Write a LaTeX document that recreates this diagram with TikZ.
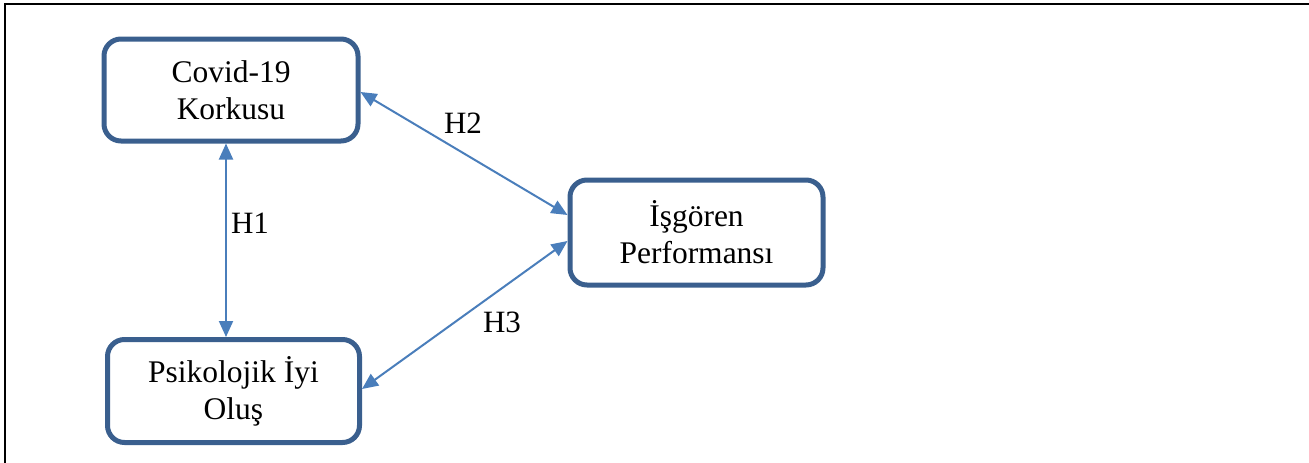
\documentclass[tikz,border=0pt]{standalone}
\usepackage{fontspec}
\setmainfont{Liberation Serif}
\usetikzlibrary{arrows.meta}
\definecolor{boxblue}{HTML}{3A5F8E}
\definecolor{arrblue}{HTML}{4A7EBB}
\begin{document}
\begin{tikzpicture}[x=1pt,y=-1pt,
  vbox/.style={draw=boxblue, line width=5pt, rounded corners=17pt, fill=white,
    align=center, inner sep=0pt, font=\fontsize{31.5}{37}\selectfont},
  link/.style={draw=arrblue, line width=2pt,
    {Triangle[length=16pt,width=14pt]}-{Triangle[length=16pt,width=14pt]}},
  hlab/.style={font=\fontsize{31}{36}\selectfont, inner sep=0pt}]
\useasboundingbox (0,0) rectangle (1309,463);
\draw[line width=2.6pt] (4.8,463) -- (4.8,3.8) -- (1309,3.8);
\node[vbox, minimum width=254pt, minimum height=102pt] (cov) at (231,90) {Covid-19\\Korkusu};
\node[vbox, minimum width=253pt, minimum height=105pt] (isg) at (696.5,232.5) {İşgören\\Performansı};
\node[vbox, minimum width=252pt, minimum height=103pt] (psi) at (233.5,391) {Psikolojik İyi\\Oluş};
\draw[link] ([xshift=-5pt]cov.south) -- ([xshift=-7.5pt]psi.north);
\draw[link] ([yshift=-2pt]cov.east) -- ([yshift=17.5pt]isg.west);
\draw[link] ([yshift=2pt]psi.east) -- ([yshift=-8.5pt]isg.west);
\node[hlab] (h1) at (250,223) {H1};
\node[hlab] (h2) at (463,123) {H2};
\node[hlab] (h3) at (502,322) {H3};
\end{tikzpicture}
\end{document}
